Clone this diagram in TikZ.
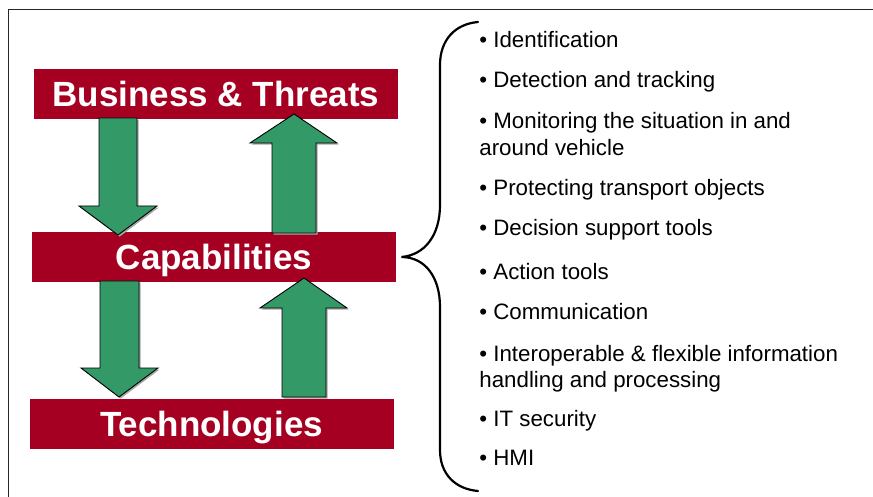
\documentclass[tikz,border=0pt]{standalone}
\usepackage{fontspec}
\setmainfont{Liberation Sans}
\usepackage{xcolor}
\definecolor{dnbar}{HTML}{A50021}
\definecolor{dnxanhla}{HTML}{339966}
\def\maubar{dnbar}
\def\mauten{dnxanhla}
\usepackage{tikz}
\usetikzlibrary{calc,shadows,positioning}

\begin{document}
\begin{tikzpicture}[x=.5pt,y=-.5pt]
		\tikzstyle{barstyle} = [fill=\maubar,text=white,inner sep=0pt,minimum width=182pt,minimum height=25pt,text height=13.3pt,text depth=.3pt,font=\fontsize{17.5}{20}\selectfont\bfseries]
		\tikzstyle{arrowstyle} = [fill=\mauten,draw=black,line width=.45pt,line join=miter,drop shadow={shadow xshift=.8pt,shadow yshift=-.8pt,fill=black!35,opacity=1}]
		\tikzstyle{itemstyle} = [anchor=base west,inner sep=0pt,font=\fontsize{11.15}{13}\selectfont]
		\useasboundingbox (0,0) rectangle (873,497);
		% khung ngoai
		\draw[line width=.65pt,black!85] (8.5,510)--(8.5,9.5)--(885,9.5);
		% ba thanh
		\node[barstyle] (bt) at (216,94) {Business \& Threats};
		\node[barstyle] (cap) at (214,257) {Capabilities};
		\node[barstyle] (tech) at (211.5,423.5) {Technologies};
		% mui ten xanh
		\path[arrowstyle] (99,118)--(137,118)--(137,206)--(157,206)--(118,235)--(79,206)--(99,206)--cycle;
		\path[arrowstyle] (272,233)--(316,233)--(316,143)--(337,143)--(294,114)--(250,143)--(272,143)--cycle;
		\path[arrowstyle] (100,281)--(139,281)--(139,368)--(158,368)--(119,397)--(81,368)--(100,368)--cycle;
		\path[arrowstyle] (282,397)--(326,397)--(326,308)--(347,308)--(304,278)--(260,308)--(282,308)--cycle;
		% ngoac
		\coordinate (nhon) at ($(cap.east)+(5,0)$);
		\draw[line width=1.1pt,line cap=round] (478,22) .. controls (455,24) and (440,40) .. (440,65) -- (440,205)
		.. controls (440,235) and (425,255) .. (nhon) .. controls (425,257) and (440,277) .. (440,307) -- (440,450)
		.. controls (440,474) and (455,489) .. (478,491);
		% danh sach
		\node[itemstyle] (i1) at (479,48) {• Identification};
		\node[itemstyle] (i2) at (479,88) {• Detection and tracking};
		\node[itemstyle] (i3) at (479,129) {• Monitoring the situation in and};
		\node[itemstyle] (i3b) at (479,155.5) {around vehicle};
		\node[itemstyle] (i4) at (479,196) {• Protecting transport objects};
		\node[itemstyle] (i5) at (479,236) {• Decision support tools};
		\node[itemstyle] (i6) at (479,280) {• Action tools};
		\node[itemstyle] (i7) at (479,320) {• Communication};
		\node[itemstyle] (i8) at (479,361) {• Interoperable \& flexible information};
		\node[itemstyle] (i8b) at (479,387) {handling and processing};
		\node[itemstyle] (i9) at (479,426) {• IT security};
		\node[itemstyle] (i10) at (479,465) {• HMI};
\end{tikzpicture}
\end{document}
